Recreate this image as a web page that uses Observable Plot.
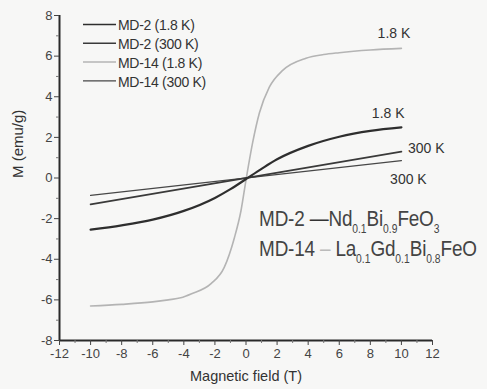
<!DOCTYPE html>
<html><head><meta charset="utf-8">
<script src="https://cdn.jsdelivr.net/npm/d3@7"></script>
<script src="https://cdn.jsdelivr.net/npm/@observablehq/plot@0.6"></script>
<style>
body{margin:0;background:#f7f7f6}
svg{font-family:"Liberation Sans",Arial,sans-serif}
</style>
</head><body><div id="chart"></div>
<script>
// ---- data ----
const seriesNames = ["MD-2 (1.8 K)", "MD-2 (300 K)", "MD-14 (1.8 K)", "MD-14 (300 K)"];
const seriesColors = ["#2e2e2e", "#3a3a3a", "#b4b4b4", "#474747"];
const seriesWidths = [2.2, 1.7, 1.6, 1.3];

const fieldMD2 = [-10, -8, -6, -4, -2, -1, 0, 1, 2, 4, 6, 8, 10];
const mMD2_18K = [-2.54, -2.33, -2.05, -1.62, -0.98, -0.55, -0.05, 0.45, 0.92, 1.58, 2.03, 2.32, 2.49];
const fieldLin = [-10, 10];
const mMD2_300K = [-1.3, 1.3];
const mMD14_300K = [-0.86, 0.86];
const fieldMD14 = [-10, -8, -6, -5, -4.2, -3.5, -2.25, -1.4, -0.75, -0.32, 0, 0.43, 0.86, 1.5, 2.36, 3.86, 5, 6, 8, 10];
const mMD14_18K = [-6.3, -6.22, -6.1, -6.0, -5.9, -5.7, -5.2, -4.4, -2.95, -1.6, -0.1, 1.75, 3.2, 4.47, 5.3, 5.9, 6.08, 6.17, 6.3, 6.38];

const xTicks = [-12, -10, -8, -6, -4, -2, 0, 2, 4, 6, 8, 10, 12];
const xMinor = [-11, -9, -7, -5, -3, -1, 1, 3, 5, 7, 9, 11];
const yTicks = [-8, -6, -4, -2, 0, 2, 4, 6, 8];
const yMinor = [-7, -5, -3, -1, 1, 3, 5, 7];

// curve annotations
const curveLabels = [
  {x: 9.52, y: 7.12, text: "1.8 K"},
  {x: 9.15, y: 3.18, text: "1.8 K"},
  {x: 11.6, y: 1.45, text: "300 K"},
  {x: 10.45, y: -0.07, text: "300 K"}
];
// compound formulas (segments: [text, isSubscript, colour])
const formulas = [
  {x: 0.84, y: -2.37, parts: [["MD-2 ", 0], ["—", 0, "#333"], ["Nd", 0], ["0.1", 1], ["Bi", 0], ["0.9", 1], ["FeO", 0], ["3", 1]]},
  {x: 0.84, y: -3.85, parts: [["MD-14 ", 0], ["–", 0, "#bbb"], [" La", 0], ["0.1", 1], ["Gd", 0], ["0.1", 1], ["Bi", 0], ["0.8", 1], ["FeO", 0]]}
];

const toRows = (xs, ys) => xs.map((x, i) => ({x, y: ys[i]}));
const lines = [
  toRows(fieldMD2, mMD2_18K),
  toRows(fieldLin, mMD2_300K),
  toRows(fieldMD14, mMD14_18K),
  toRows(fieldLin, mMD14_300K)
];
const drawOrder = [2, 3, 1, 0];

const plot = Plot.plot({
  width: 487, height: 389,
  marginLeft: 59, marginRight: 55, marginTop: 15, marginBottom: 49,
  style: {background: "#f7f7f6", fontFamily: "'Liberation Sans', Arial, sans-serif", fontSize: "13px", color: "#3a3a3a"},
  x: {domain: [-12, 12]},
  y: {domain: [-8, 8]},
  marks: [
    ...drawOrder.map(i => Plot.line(lines[i], {x: "x", y: "y", stroke: seriesColors[i], strokeWidth: seriesWidths[i], curve: "monotone-x"})),
    Plot.ruleX([-12], {y1: -8, y2: 8, stroke: "#2a2a2a", strokeWidth: 2}),
    Plot.ruleY([-8], {x1: -12, x2: 12, stroke: "#2a2a2a", strokeWidth: 2}),
    Plot.axisX({ticks: xTicks, tickSize: 5, tickPadding: 3, tickFormat: d => String(d), label: null, fill: "#444", stroke: "#444", fontSize: 13}),
    Plot.axisX({ticks: xMinor, tickSize: 3, tickFormat: null, text: null, label: null, stroke: "#777"}),
    Plot.axisY({ticks: yTicks, tickSize: 5, tickPadding: 2, tickFormat: d => String(d), label: null, fill: "#444", stroke: "#444", fontSize: 13}),
    Plot.axisY({ticks: yMinor, tickSize: 3, tickFormat: null, text: null, label: null, stroke: "#777"}),
    Plot.text(["Magnetic field (T)"], {frameAnchor: "bottom", dy: 40, fontSize: 14.5, fill: "#333"}),
    Plot.text(["M (emu/g)"], {frameAnchor: "left", rotate: -90, dx: -41, fontSize: 15, fill: "#333"}),
    Plot.text(curveLabels, {x: "x", y: "y", text: "text", fontSize: 14, fill: "#333"}),
    Plot.text(formulas, {x: "x", y: "y", text: d => d.parts.map(p => p[0]).join(""), textAnchor: "start", fontSize: 22, fill: "#444", className: "formula"})
  ]
});

const svg = d3.select(plot);
const xs = plot.scale("x"), ys = plot.scale("y");
// rich text for formulas (subscripts), horizontally condensed like the source
svg.selectAll(".formula text").each(function(d, i) {
  const f = formulas[i];
  const px = xs.apply(f.x), py = ys.apply(f.y);
  const t = d3.select(this).text("").attr("dy", null).attr("x", null).attr("y", null)
    .attr("transform", `translate(${px},${py}) scale(0.86,1)`)
    .style("letter-spacing", "-0.2px");
  let sub = false;
  f.parts.forEach(([s, isSub, col]) => {
    const ts = t.append("tspan").text(s);
    if (col) ts.attr("fill", col);
    if (isSub) { ts.attr("font-size", 12).style("letter-spacing", "0px"); if (!sub) { ts.attr("dy", 7); sub = true; } }
    else if (sub) { ts.attr("dy", -7); sub = false; }
  });
});
// in-plot legend
const lg = svg.append("g").attr("font-size", 14).attr("fill", "#333")
  .attr("text-anchor", "start").style("letter-spacing", "-0.3px");
seriesNames.forEach((name, i) => {
  const yy = 24.5 + i * 18.8;
  lg.append("line").attr("x1", 83).attr("x2", 116).attr("y1", yy).attr("y2", yy)
    .attr("stroke", seriesColors[i]).attr("stroke-width", Math.min(seriesWidths[i], 1.5));
  lg.append("text").attr("x", 118).attr("y", yy).attr("dy", "0.4em").text(name);
});
document.getElementById("chart").appendChild(plot);
</script></body></html>
